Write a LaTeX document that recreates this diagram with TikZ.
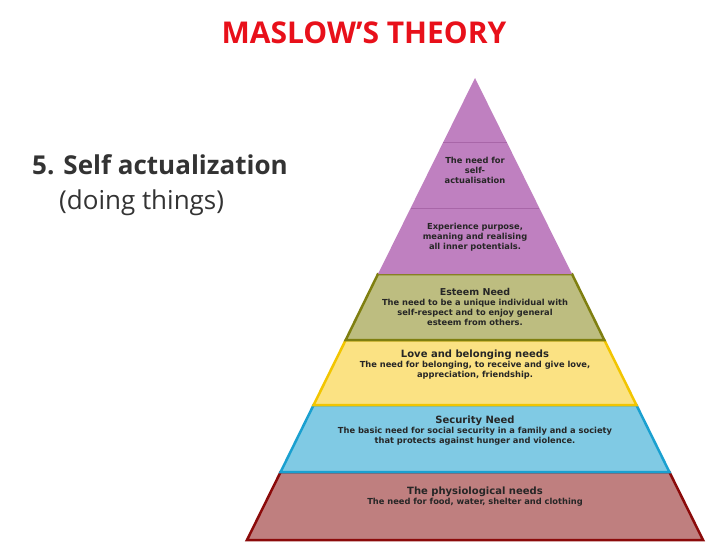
\documentclass[tikz,border=0pt]{standalone}
\usepackage{fontspec}
\setmainfont{Open Sans}
\newfontfamily\pyrfont{DejaVu Sans}
\usetikzlibrary{positioning}
\definecolor{titlered}{HTML}{E8101A}
\definecolor{selffill}{HTML}{BF80C0}
\definecolor{selfline}{HTML}{A866A8}
\definecolor{esteemfill}{HTML}{BDBD80}
\definecolor{esteemline}{HTML}{7F7F10}
\definecolor{lovefill}{HTML}{FBE283}
\definecolor{loveline}{HTML}{F2C500}
\definecolor{secfill}{HTML}{80CAE4}
\definecolor{secline}{HTML}{1AA0D0}
\definecolor{physfill}{HTML}{BF7F7F}
\definecolor{physline}{HTML}{8B0A0A}
\tikzset{
  level/.style={line width=2.5pt,line join=miter},
  pyrtext/.style={font=\pyrfont\bfseries\fontsize{8.3}{10}\selectfont,align=center,text=black!85},
  pyrhead/.style={font=\pyrfont\bfseries\fontsize{10}{12}\selectfont}
}
\begin{document}
\begin{tikzpicture}[x=1pt,y=-1pt]
  \useasboundingbox (0,0) rectangle (728,546);
  % bands, bottom up
  \draw[level,fill=physfill,draw=physline] (247,540) -- (703,540) -- (669.4,472) -- (280.6,472) -- cycle;
  \draw[level,fill=secfill,draw=secline] (280.6,472) -- (669.4,472) -- (636.4,405) -- (313.6,405) -- cycle;
  \draw[level,fill=lovefill,draw=loveline] (313.6,405) -- (636.4,405) -- (604.3,340) -- (345.7,340) -- cycle;
  \draw[level,fill=esteemfill,draw=esteemline] (345.7,340) -- (604.3,340) -- (572,274) -- (378,274) -- cycle;
  \fill[selffill] (378,274) -- (572,274) -- (475,78) -- cycle;
  \draw[selfline,line width=0.4pt] (443.4,142) -- (506.6,142) (410.8,208) -- (539.2,208);
  % texts
  \node[font=\bfseries\fontsize{30}{34}\selectfont,text=titlered] (title) at (364,33) {MASLOW’S THEORY};
  \node[font=\bfseries\fontsize{26}{30}\selectfont,anchor=west,text=black!80,inner sep=0pt] (five) at (32,165) {5. Self actualization};
  \node[font=\fontsize{26}{30}\selectfont,anchor=west,text=black!80,inner sep=0pt] (doing) at (59,203) {(doing things)};
  \node[pyrtext] (self) at (475,170) {The need for\\self-\\actualisation};
  \node[pyrtext] (exp) at (475,237) {Experience purpose,\\meaning and realising\\all inner potentials.};
  \node[pyrtext] (esteem) at (475,307) {{\pyrfont\bfseries\fontsize{9.5}{11}\selectfont Esteem Need}\\The need to be a unique individual with\\self-respect and to enjoy general\\esteem from others.};
  \node[pyrtext] (love) at (475,365) {{\pyrfont\bfseries\fontsize{10}{12}\selectfont Love and belonging needs}\\The need for belonging, to receive and give love,\\appreciation, friendship.};
  \node[pyrtext] (sec) at (475,431) {{\pyrfont\bfseries\fontsize{10}{12}\selectfont Security Need}\\The basic need for social security in a family and a society\\that protects against hunger and violence.};
  \node[pyrtext] (phys) at (475,497) {{\pyrfont\bfseries\fontsize{10}{12}\selectfont The physiological needs}\\The need for food, water, shelter and clothing};
\end{tikzpicture}
\end{document}
